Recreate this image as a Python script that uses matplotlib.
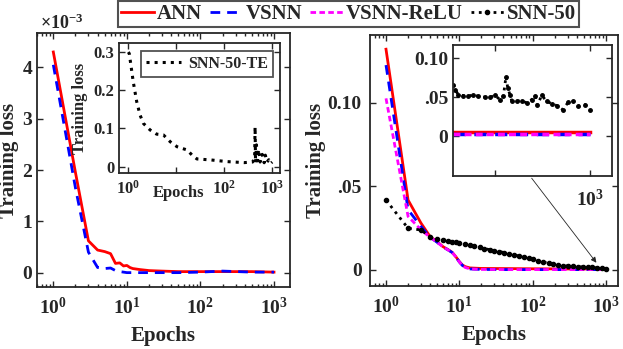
import matplotlib
matplotlib.use("Agg")
import matplotlib.pyplot as plt
from matplotlib.lines import Line2D

plt.rcParams['font.family'] = 'Liberation Serif'
plt.rcParams['font.weight'] = 'bold'
plt.rcParams['mathtext.fontset'] = 'custom'
plt.rcParams['mathtext.rm'] = 'Liberation Serif:bold'
plt.rcParams['mathtext.it'] = 'Liberation Serif:bold'
plt.rcParams['mathtext.bf'] = 'Liberation Serif:bold'
plt.rcParams['text.color'] = '#262626'
plt.rcParams['axes.labelcolor'] = '#262626'
plt.rcParams['xtick.color'] = '#262626'
plt.rcParams['ytick.color'] = '#262626'

# ---- data: left panel (values in units of 1e-3) ----
ep_left = [1, 2, 3, 4, 5, 6, 7, 8, 9, 10, 11, 12, 15, 20, 30, 50, 100, 200, 500, 1000]
ann_left = [4.30, 1.95, 0.62, 0.44, 0.41, 0.37, 0.18, 0.19, 0.13, 0.14, 0.10, 0.08,
            0.06, 0.04, 0.03, 0.02, 0.02, 0.02, 0.02, 0.01]
vsnn_left = [4.05, 1.65, 0.40, 0.10, 0.08, 0.09, 0.04, 0.02, 0.01, 0.0, 0.0, 0.0,
             0.0, 0.0, 0.0, 0.0, 0.01, 0.03, 0.01, 0.01]

# left inset: SNN-50-TE
ep_te = [1, 1.05, 1.27, 1.5, 1.76, 2.07, 2.85, 3.9, 5.4, 7.5, 10.4, 13, 16.9, 21.4, 27,
         52, 117, 260, 390, 430, 440, 450, 470, 490, 520, 560, 620, 680, 720, 780,
         850, 920, 1000]
snn_te = [0.300, 0.296, 0.222, 0.170, 0.135, 0.113, 0.096, 0.085, 0.083, 0.065, 0.052,
          0.048, 0.0435, 0.030, 0.020, 0.0175, 0.013, 0.0104, 0.012, 0.020, 0.104,
          0.010, 0.057, 0.015, 0.045, 0.012, 0.032, 0.010, 0.030, 0.012, 0.018,
          0.008, 0.012]

# ---- data: right panel ----
ep_right = [1, 2, 3, 4, 5, 6, 7, 8, 9, 10, 11, 12, 14, 20, 50, 100, 300, 1000]
ann_right = [0.132, 0.0418, 0.028, 0.0199, 0.0168, 0.0139, 0.0122, 0.0105, 0.0078,
             0.0050, 0.0030, 0.0020, 0.0012, 0.0009, 0.0008, 0.0007, 0.0006, 0.0006]
vsnn_right = [0.1225, 0.036, 0.026, 0.0195, 0.0165, 0.0137, 0.0120, 0.0104, 0.0077,
              0.0048, 0.0027, 0.0015, 0.0006, 0.0003, 0.0002, 0.0002, 0.0002, 0.0002]
relu_right = [0.1026, 0.032, 0.024, 0.0195, 0.0165, 0.0137, 0.0120, 0.0104, 0.0077,
              0.0048, 0.0027, 0.0015, 0.0006, 0.0003, 0.0002, 0.0002, 0.0002, 0.0002]

ep_snn = [1, 2, 3, 4, 5, 6, 7, 8, 9, 10, 12, 14, 16, 19, 22, 26, 30, 35, 41, 48, 56,
          65, 76, 88, 100, 120, 140, 165, 190, 220, 260, 300, 350, 410, 480, 560,
          650, 760, 880, 1000]
snn_right = [0.0418, 0.0249, 0.0239, 0.0199, 0.0188, 0.0180, 0.0175, 0.0170, 0.0166,
             0.0163, 0.0155, 0.0148, 0.0142, 0.0135, 0.0128, 0.0121, 0.0115, 0.0110,
             0.0104, 0.0097, 0.0090, 0.0083, 0.0076, 0.0069, 0.0063, 0.0055, 0.0047,
             0.0040, 0.0033, 0.0028, 0.0025, 0.0024, 0.0022, 0.0020, 0.0018, 0.0017,
             0.0015, 0.0012, 0.0009, 0.0006]

# right inset (zoom near the end of training)
ep_zoom = [281, 290, 307, 333, 360, 386, 412, 447, 474, 500, 526, 544, 558, 567, 579,
           588, 614, 640, 667, 693, 711, 723, 746, 772, 798, 825, 856, 886, 912, 939,
           974, 1000]
snn_zoom = [0.0659, 0.0596, 0.0532, 0.0519, 0.0510, 0.0532, 0.0510, 0.0500, 0.0497,
            0.0523, 0.0468, 0.0510, 0.0765, 0.0620, 0.0530, 0.0455, 0.0447, 0.0455,
            0.0425, 0.0468, 0.0519, 0.0396, 0.0523, 0.0447, 0.0417, 0.0391, 0.0340,
            0.0434, 0.0447, 0.0383, 0.0404, 0.0340]
ep_zoom_flat = [281, 500, 750, 1000]
ann_zoom = [0.005, 0.005, 0.005, 0.005]
vsnn_zoom = [0.002, 0.002, 0.002, 0.002]
relu_zoom = [0.002, 0.002, 0.002, 0.002]

RED, BLUE, MAG, BLK = '#FF0000', '#0000FF', '#FF00FF', '#000000'
W, H = 623, 349


def box(px_left, px_top, px_right, px_bottom):
    return [px_left / W, 1 - px_bottom / H, (px_right - px_left) / W, (px_bottom - px_top) / H]


def style(ax, size=14):
    ax.tick_params(which='both', direction='in', top=True, right=True,
                   labelsize=size, width=1.0)
    ax.tick_params(which='major', length=4)
    ax.tick_params(which='minor', length=2)
    for s in ax.spines.values():
        s.set_linewidth(1.3)
        s.set_color('#262626')


fig = plt.figure(figsize=(6.23, 3.49), dpi=100)

# ---------- left main ----------
ax1 = fig.add_axes(box(37, 33, 290, 287))
ax1.plot(ep_left, ann_left, color=RED, lw=2)
ax1.plot(ep_left, vsnn_left, color=BLUE, lw=2, dashes=(3.5, 2.5))
ax1.set_xscale('log')
ax1.set_xlim(0.6, 1650)
ax1.set_ylim(-0.28, 4.67)
ax1.set_yticks([0, 1, 2, 3, 4])
ax1.set_xticks([1, 10, 100, 1000])
ax1.set_xticklabels([r'$10^{0}$', r'$10^{1}$', r'$10^{2}$', r'$10^{3}$'])
style(ax1)
ax1.tick_params(axis='x', which='major', pad=7)
ax1.set_xlabel('Epochs', fontsize=15, fontweight='bold')
ax1.xaxis.set_label_coords(0.5, -0.155)
ax1.set_ylabel('Training loss', fontsize=15, fontweight='bold')
ax1.yaxis.set_label_coords(-0.071, 0.5)
fig.text(40 / W, 1 - 33 / H, r'$\times 10^{-3}$', fontsize=13, va='bottom', ha='left')

# ---------- left inset ----------
axi1 = fig.add_axes(box(119.3, 43.3, 280.5, 172.7))
axi1.plot(ep_te, snn_te, color=BLK, lw=2.2, ls=':', label='SNN-50-TE')
axi1.set_xscale('log')
axi1.set_xlim(0.65, 1490)
axi1.set_ylim(-0.016, 0.323)
axi1.set_yticks([0, 0.1, 0.2, 0.3])
axi1.set_yticklabels(['0', '0.1', '0.2', '0.3'])
axi1.set_xticks([1, 10, 100, 1000])
axi1.set_xticklabels([r'$10^{0}$', '', r'$10^{2}$', r'$10^{3}$'])
style(axi1, size=12)
axi1.tick_params(axis='x', which='major', pad=5)
axi1.set_ylabel('Training loss', fontsize=12, fontweight='bold')
axi1.yaxis.set_label_coords(-0.192, 0.5)
axi1.text(0.37, -0.155, 'Epochs', transform=axi1.transAxes, fontsize=12,
          fontweight='bold', ha='center', va='center')
leg_in = axi1.legend(loc='upper right', fontsize=11.5, frameon=True, fancybox=False,
                     edgecolor='#262626', handlelength=2.2, handletextpad=0.4,
                     borderpad=0.3, borderaxespad=0.5)
leg_in.get_frame().set_linewidth(1.3)

# ---------- right main ----------
ax2 = fig.add_axes(box(370, 35, 618, 286))
ax2.plot(ep_right, ann_right, color=RED, lw=2)
ax2.plot(ep_right, vsnn_right, color=BLUE, lw=2, dashes=(3.5, 2.5))
ax2.plot(ep_right, relu_right, color=MAG, lw=2, dashes=(2, 1.2))
ax2.plot(ep_snn, snn_right, color=BLK, lw=2, ls=':', marker='o', ms=3)
ax2.set_xscale('log')
ax2.set_xlim(0.605, 1458)
ax2.set_ylim(-0.0096, 0.1405)
ax2.set_yticks([0, 0.05, 0.10])
ax2.set_yticklabels(['0', '.05', '0.10'])
ax2.set_xticks([1, 10, 100, 1000])
ax2.set_xticklabels([r'$10^{0}$', r'$10^{1}$', r'$10^{2}$', r'$10^{3}$'])
style(ax2)
ax2.tick_params(axis='x', which='major', pad=7)
ax2.tick_params(axis='y', which='major', pad=6)
ax2.set_xlabel('Epochs', fontsize=15, fontweight='bold')
ax2.xaxis.set_label_coords(0.5, -0.155)
ax2.set_ylabel('Training loss', fontsize=15, fontweight='bold')
ax2.yaxis.set_label_coords(-0.177, 0.5)

# ---------- right inset ----------
axi2 = fig.add_axes(box(453, 45, 612, 176))
axi2.plot(ep_zoom, snn_zoom, color=BLK, lw=2, ls=':', marker='o', ms=2.5)
axi2.plot(ep_zoom_flat, ann_zoom, color=RED, lw=2.5)
axi2.plot(ep_zoom_flat, vsnn_zoom, color=BLUE, lw=2.5, dashes=(3.5, 2.5))
axi2.plot(ep_zoom_flat, relu_zoom, color=MAG, lw=2.5, dashes=(2, 1.2))
axi2.set_xlim(279, 1116)
axi2.set_ylim(-0.0514, 0.117)
axi2.set_yticks([0, 0.05, 0.10])
axi2.set_yticklabels(['0', '.05', '0.10'])
axi2.set_xticks([500, 1000])
axi2.set_xticklabels(['', r'$10^{3}$'])
style(axi2)
axi2.tick_params(axis='x', which='major', pad=9)

# arrow from inset to the zoomed region
ax2.annotate('', xy=(780, 0.003), xycoords='data',
             xytext=(530 / W, 1 - 176 / H), textcoords='figure fraction',
             arrowprops=dict(arrowstyle='-|>', color='#262626', lw=0.6,
                             mutation_scale=8))

# ---------- shared legend ----------
handles = [Line2D([], [], color=RED, lw=2),
           Line2D([], [], color=BLUE, lw=2, dashes=(3.5, 2.5)),
           Line2D([], [], color=MAG, lw=2, dashes=(2, 1.2)),
           Line2D([], [], color=BLK, lw=2, ls=':', marker='o', ms=3)]
labels = ['ANN', 'VSNN', 'VSNN-ReLU', 'SNN-50']
leg = fig.legend(handles, labels, loc='center', bbox_to_anchor=(348.5 / W, 1 - 14 / H),
                 ncol=4, frameon=True, fancybox=False, edgecolor='#262626',
                 handlelength=1.55, handletextpad=0.15, columnspacing=0.4,
                 borderpad=0.15, prop={'weight': 'bold', 'size': 15})
leg.get_frame().set_linewidth(1.5)

fig.savefig('out.png', dpi=100)
